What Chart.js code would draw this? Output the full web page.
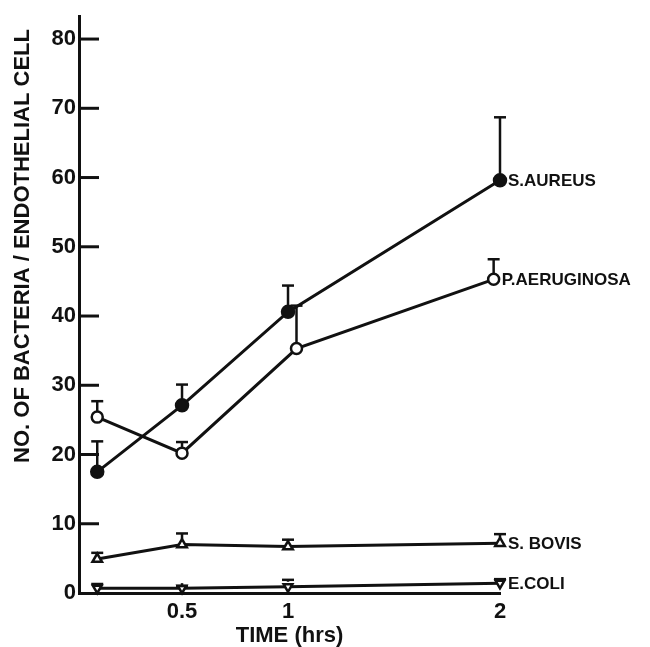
<!DOCTYPE html>
<html>
<head>
<meta charset="utf-8">
<script src="https://cdn.jsdelivr.net/npm/chart.js@4"></script>
<style>
  html, body { margin: 0; padding: 0; background: #fff; }
</style>
</head>
<body>
<canvas id="adherenceChart" width="650" height="647"></canvas>
<script>
// time points (hrs)
const times = [0.1, 0.5, 1, 2];
const aeruginosaTimes = [0.1, 0.5, 1.04, 1.97];
const xTickValues = [0.5, 1, 2];
const xTickLabels = ["0.5", "1", "2"];
const yTickValues = [0, 10, 20, 30, 40, 50, 60, 70, 80];

const seriesNames = ["S.AUREUS", "P.AERUGINOSA", "S. BOVIS", "E.COLI"];

// mean bacteria per endothelial cell, and upper error (SEM)
const aureus = [17.5, 27.1, 40.6, 59.6];
const aureusErr = [4.4, 3.0, 3.8, 9.1];
const aeruginosa = [25.4, 20.2, 35.3, 45.3];
const aeruginosaErr = [2.3, 1.6, 6.2, 2.9];
const bovis = [4.9, 7.0, 6.7, 7.2];
const bovisErr = [0.9, 1.6, 1.0, 1.3];
const coli = [0.7, 0.7, 0.9, 1.4];
const coliErr = [0.6, 0.3, 1.0, 0.6];

const errBars = [aureusErr, aeruginosaErr, bovisErr, coliErr];

const ink = "#111";
const FONT = '"Liberation Sans", Arial, sans-serif';

function series(name, xs, ys, shape, radius, fill, rot) {
  return {
    label: name,
    data: xs.map((x, i) => ({ x: x, y: ys[i] })),
    showLine: true,
    clip: false,
    borderColor: ink,
    borderWidth: 3,
    pointStyle: shape,
    pointRadius: radius,
    pointRotation: rot || 0,
    pointBackgroundColor: fill,
    pointBorderColor: ink,
    pointBorderWidth: 2.5
  };
}

function line(ctx, x1, y1, x2, y2) {
  ctx.beginPath();
  ctx.moveTo(x1, y1);
  ctx.lineTo(x2, y2);
  ctx.stroke();
}

const decor = {
  id: "decor",
  afterDatasetsDraw(chart) {
    const ctx = chart.ctx;
    const ys = chart.scales.y;
    const area = chart.chartArea;
    ctx.save();
    ctx.strokeStyle = ink;
    ctx.fillStyle = ink;

    // tick marks point into the plot
    ctx.lineWidth = 3;
    yTickValues.forEach(v => {
      if (v === 0) return;
      const py = ys.getPixelForValue(v);
      line(ctx, area.left, py, area.left + 20, py);
    });

    chart.data.datasets.forEach((ds, i) => {
      const meta = chart.getDatasetMeta(i);
      ctx.lineWidth = 2.5;
      meta.data.forEach((pt, j) => {
        const top = ys.getPixelForValue(ds.data[j].y + errBars[i][j]);
        line(ctx, pt.x, pt.y - ds.pointRadius, pt.x, top);
        line(ctx, pt.x - 6, top, pt.x + 6, top);
      });
      const last = meta.data[meta.data.length - 1];
      ctx.font = "bold 17px " + FONT;
      ctx.textAlign = "left";
      ctx.textBaseline = "middle";
      ctx.fillText(ds.label, last.x + 8, last.y + 1);
    });

    // y axis title
    ctx.translate(23, 246);
    ctx.rotate(-Math.PI / 2);
    ctx.textAlign = "center";
    ctx.textBaseline = "middle";
    ctx.font = "bold 22px " + FONT;
    ctx.fillText("NO. OF BACTERIA / ENDOTHELIAL CELL", 0, 0);
    ctx.restore();
  }
};

new Chart(document.getElementById("adherenceChart"), {
  type: "scatter",
  data: {
    datasets: [
      series(seriesNames[0], times, aureus, "circle", 6, ink),
      series(seriesNames[1], aeruginosaTimes, aeruginosa, "circle", 5.5, "#fff"),
      series(seriesNames[2], times, bovis, "triangle", 5.5, "#fff"),
      series(seriesNames[3], times, coli, "triangle", 5, "#fff", 180)
    ]
  },
  options: {
    responsive: false,
    animation: false,
    layout: { padding: { top: 12, right: 150, bottom: 0, left: 0 } },
    plugins: { legend: { display: false }, tooltip: { enabled: false } },
    scales: {
      x: {
        type: "linear",
        min: 0.014,
        max: 2,
        afterBuildTicks: s => { s.ticks = xTickValues.map(v => ({ value: v })); },
        afterFit: s => { s.height = 54; },
        grid: { display: false, drawTicks: false },
        border: { display: true, width: 3, color: ink },
        ticks: {
          color: ink, padding: 6,
          font: { family: FONT, size: 22, weight: "bold" },
          callback: (v, i) => xTickLabels[i]
        },
        title: {
          display: true, text: "TIME (hrs)", color: ink, padding: 0,
          font: { family: FONT, size: 22, weight: "bold", lineHeight: 1 }
        }
      },
      y: {
        min: 0,
        max: 83.3,
        afterBuildTicks: s => { s.ticks = yTickValues.map(v => ({ value: v })); },
        afterFit: s => { s.width = 79; },
        grid: { display: false, drawTicks: false },
        border: { display: true, width: 3, color: ink },
        ticks: { color: ink, padding: 3, font: { family: FONT, size: 22, weight: "bold" } }
      }
    }
  },
  plugins: [decor]
});
</script>
</body>
</html>
